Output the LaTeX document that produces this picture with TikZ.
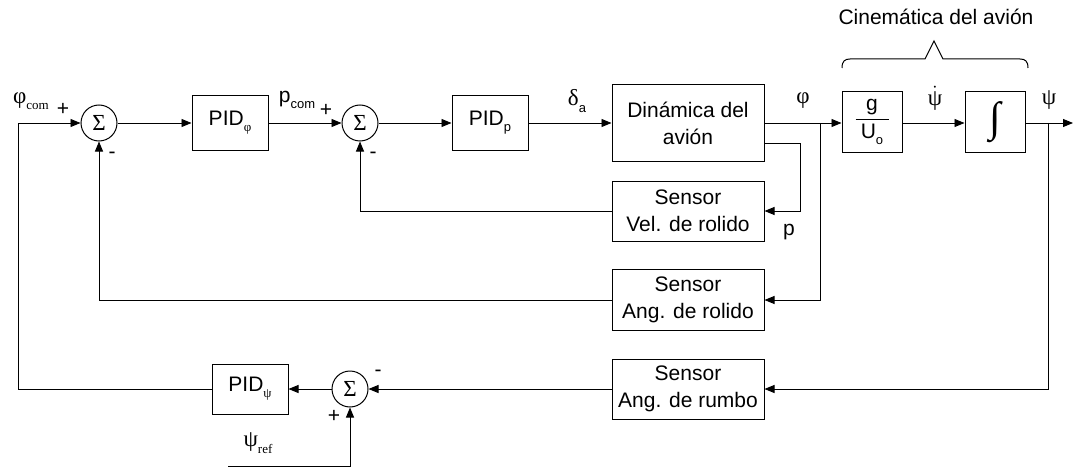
\documentclass[tikz,border=0pt]{standalone}
\usepackage{fontspec}
\setmainfont{Liberation Sans}
\newfontfamily\gr{Liberation Serif}
\usetikzlibrary{arrows.meta}
\newcommand\mf{\fontsize{21}{27}\selectfont}
\newcommand\gf{\fontsize{23}{27}\selectfont}
\newcommand\mysub[1]{\raisebox{-0.28em}{\fontsize{13}{13}\selectfont #1}}
\begin{document}
\begin{tikzpicture}[x=1pt,y=-1pt,
  blk/.style={draw, line width=1pt, align=center, inner sep=0pt, font=\mf},
  sumc/.style={draw, circle, minimum size=36pt, inner sep=0pt, line width=1pt, font=\gf\gr},
  arr/.style={-{Triangle[length=10pt,width=8pt]}, line width=0.9pt},
  lbl/.style={inner sep=0pt, font=\mf},
  glbl/.style={inner sep=0pt, font=\gf\gr}]
\useasboundingbox (0,0) rectangle (1073,468);
% top row
\node[sumc] (s1) at (99,123) {Σ};
\node[blk, minimum width=76pt, minimum height=54pt] (pidphi) at (230,123) {PID\mysub{\gr φ}};
\node[sumc] (s2) at (360,123) {Σ};
\node[blk, minimum width=76pt, minimum height=54pt] (pidp) at (490,123) {PID\mysub{p}};
\node[blk, minimum width=152pt, minimum height=76pt] (din) at (688,123) {Dinámica del\\avión};
\node[blk, minimum width=60pt, minimum height=60pt] (gu) at (872,122) {$\displaystyle\frac{\hbox to 33pt{\hfil g\hfil}}{\hbox{U\mysub{o}}}$};
\node[blk, minimum width=60pt, minimum height=60pt] (integ) at (995,122) {\fontsize{42}{42}\selectfont\gr ∫};
% sensors
\node[blk, minimum width=152pt, minimum height=60pt] (vel) at (688,211) {Sensor\\Vel. de rolido};
\node[blk, minimum width=152pt, minimum height=61pt] (angr) at (688,300) {Sensor\\Ang. de rolido};
\node[blk, minimum width=152pt, minimum height=60pt] (rumbo) at (688,389) {Sensor\\Ang. de rumbo};
% bottom row
\node[sumc] (s3) at (350,389) {Σ};
\node[blk, minimum width=76pt, minimum height=50pt] (pidpsi) at (250,389) {PID\mysub{\gr ψ}};
% coordinates
\coordinate (lft) at (18,123);
\coordinate (bphi) at (820,123);
\coordinate (bpsi) at (1048,123);
\coordinate (out) at (1073,123);
\coordinate (dp) at ([yshift=-20pt]din.east);
\coordinate (ref) at (228,466);
% connectors
\draw[arr] (s1) -- (pidphi);
\draw[arr] (pidphi) -- (s2);
\draw[arr] (s2) -- (pidp);
\draw[arr] (pidp) -- (din);
\draw[arr] (din.east) -- (gu.west |- din.east);
\draw[arr] (gu.east |- din.east) -- (integ.west |- din.east);
\draw[arr] (integ.east |- din.east) -- (out);
\draw[arr] (dp) -- ++(36,0) |- (vel.east);
\draw[arr] (vel.west) -| (s2.south);
\draw[arr] (bphi) |- (angr.east);
\draw[arr] (angr.west) -| (s1.south);
\draw[arr] (bpsi) |- (rumbo.east);
\draw[arr] (rumbo.west) -- (s3.east);
\draw[arr] (s3.west) -- (pidpsi.east);
\draw[arr] (pidpsi.west) -| (lft) -- (s1.west);
\draw[arr] (ref) -| (s3.south);
% labels
\node[glbl] (lphicom) at (31,101) {φ\mysub{com}};
\node[lbl] (pl1) at (63,109) {+};
\node[lbl] (mi1) at (112,155) {-};
\node[lbl] (lpcom) at (297,100) {p\mysub{com}};
\node[lbl] (pl2) at (326,110) {+};
\node[lbl] (mi2) at (373,155) {-};
\node[glbl] (lda) at (577,101) {δ\mysub{\normalfont a}};
\node[glbl] (lphi) at (803,101) {φ};
\node[lbl] (lp) at (789,232) {p};
\node[glbl] (lpsid) at (935,98) {$\dot{\hbox{\gf\gr ψ}}$};
\node[glbl] (lpsi) at (1049,100) {ψ};
\node[lbl] (mi3) at (378,373) {-};
\node[lbl] (pl3) at (334,416) {+};
\node[glbl] (lpsiref) at (258,443) {ψ\mysub{ref}};
% brace
\draw[line width=1pt] (842,68) .. controls (842,61) and (845,59) .. (850,59) -- (925,59) -- (934,41) -- (943,59) -- (1020,59) .. controls (1025,59) and (1028,61) .. (1028,68);
\node[lbl] (cin) at (936,17) {Cinemática del avión};
\end{tikzpicture}
\end{document}
